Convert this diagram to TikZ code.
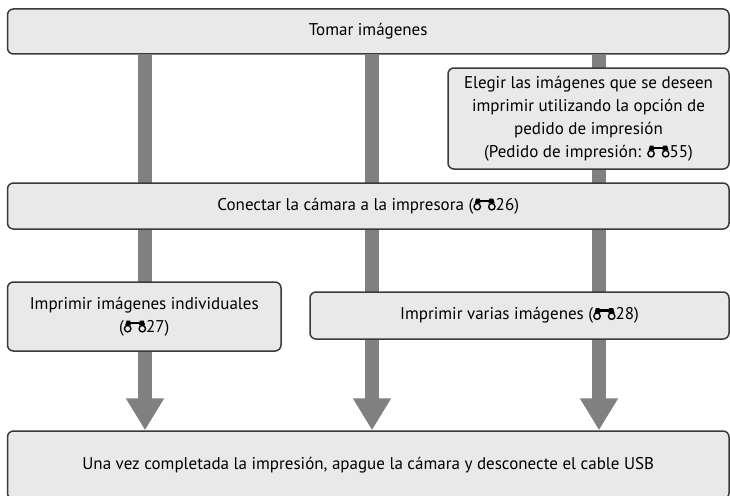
\documentclass[tikz,border=0pt]{standalone}
\usepackage{fontspec}
\setmainfont{PT Sans}
\usepackage{tikz}
\usetikzlibrary{arrows.meta,positioning,backgrounds}
\definecolor{Frame}{HTML}{3A3A3A}
\definecolor{Soft}{HTML}{E9E9E9}
\definecolor{Bar}{HTML}{808080}

% small binocular mark used for page references
\newcommand{\binoc}{\tikz[baseline=0pt,x=1em,y=1em,sharp corners,draw=black,fill=black]{%
  \draw[line width=0.08em] (0.27,0.21) circle (0.19);
  \draw[line width=0.08em] (1.13,0.21) circle (0.19);
  \fill (0.12,0.40) -- (0.20,0.68) -- (0.42,0.68) -- (0.46,0.40) -- cycle;
  \fill (0.94,0.40) -- (0.98,0.68) -- (1.22,0.68) -- (1.30,0.40) -- cycle;
  \fill (0.40,0.47) rectangle (1.00,0.62);}}

\begin{document}
\begin{tikzpicture}[
  x=1pt,y=-1pt,
  box/.style={rounded corners=6pt,draw=Frame,fill=Soft,line width=1.5pt,align=center,inner sep=0pt,font=\fontsize{17}{23}\selectfont},
  bar/.style={draw=Bar,line width=14pt,-{Triangle[length=32pt,width=36pt]}}
]
\useasboundingbox (0,0) rectangle (730,495);
\node[box,minimum width=721.5pt,minimum height=45pt] (top) at (368.25,31.5) {Tomar imágenes};
\node[box,minimum width=281pt,minimum height=101pt] (pick) at (588.5,118.5)
  {Elegir las imágenes que se deseen\\imprimir utilizando la opción de\\pedido de impresión\\(Pedido de impresión: \binoc55)};
\node[box,minimum width=721.5pt,minimum height=46pt] (link) at (368.25,206) {Conectar la cámara a la impresora (\binoc26)};
\node[box,minimum width=273.5pt,minimum height=69pt] (single) at (144.25,316.5) {Imprimir imágenes individuales\\(\binoc27)};
\node[box,minimum width=419pt,minimum height=47pt] (multi) at (519.5,315.5) {Imprimir varias imágenes (\binoc28)};
\node[box,minimum width=721.5pt,minimum height=68pt] (done) at (368.25,465)
  {Una vez completada la impresión, apague la cámara y desconecte el cable USB};
\coordinate (b1) at (145,0);
\coordinate (b2) at (372,0);
\coordinate (b3) at (599,0);
\begin{scope}[on background layer]
\foreach \c in {b1,b2,b3}
  \draw[bar] (top.south -| \c) -- (done.north -| \c);
\end{scope}
\end{tikzpicture}
\end{document}
